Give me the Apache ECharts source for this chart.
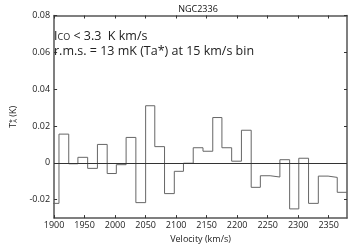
<!DOCTYPE html>
<html>
<head>
<meta charset="utf-8">
<script src="https://cdn.jsdelivr.net/npm/echarts@6/dist/echarts.min.js"></script>
<style>
html,body{margin:0;padding:0;background:#fff;}
#c{width:348px;height:249px;}
</style>
</head>
<body>
<div id="c"></div>
<script>
// Left edges of the velocity bins (km/s)
const binStart = [1892, 1908, 1924, 1939, 1955, 1971, 1987, 2002, 2018, 2034,
  2050, 2065, 2081, 2097, 2112, 2128, 2144, 2160, 2175, 2191,
  2207, 2223, 2238, 2254, 2270, 2286, 2301, 2317, 2333, 2349, 2364];
const binEnd = 2380;
// Antenna temperature per bin (K)
const tA = [-0.022, 0.0156, -0.0005, 0.003, -0.003, 0.010, -0.0058, -0.001, 0.0138, -0.0216,
  0.031, 0.0088, -0.0167, -0.0046, -0.0002, 0.0082, 0.0063, 0.0246, 0.0082, 0.0009,
  0.0177, -0.0133, -0.007, -0.0077, 0.0017, -0.025, 0.0025, -0.022, -0.0072, -0.0079, -0.016];
const xTicks = [1900, 1950, 2000, 2050, 2100, 2150, 2200, 2250, 2300, 2350];
const yTicks = [-0.02, 0, 0.02, 0.04, 0.06, 0.08];
const titleText = 'NGC2336';
const note1 = 'I{s|CO} < 3.3  K km/s';
const note2 = 'r.m.s. = 13 mK (Ta*) at 15 km/s bin';

const FONT = 'Open Sans';
const data = binStart.map((v, i) => [v, tA[i]]);
data.push([binEnd, tA[tA.length - 1]]);

const axisLine = {show: true, lineStyle: {color: '#555', width: 1.5}};
const tickStyle = {show: true, inside: true, length: 3, lineStyle: {color: '#333', width: 1}};

const chart = echarts.init(document.getElementById('c'), null, {renderer: 'canvas'});
chart.setOption({
  animation: false,
  backgroundColor: '#fff',
  title: {
    text: titleText, left: 193, top: 0, textAlign: 'center',
    textStyle: {fontFamily: FONT, fontSize: 9, fontWeight: 'normal', color: '#111'}
  },
  grid: {left: 39, right: 1, top: 15.5, bottom: 23, containLabel: false},
  xAxis: [{
    type: 'value', min: 1900, max: binEnd, position: 'bottom',
    name: 'Velocity (km/s)', nameLocation: 'middle', nameGap: 15,
    nameTextStyle: {fontFamily: FONT, fontSize: 9, color: '#222'},
    axisLine: {...axisLine, onZero: false},
    axisTick: {...tickStyle, customValues: xTicks},
    axisLabel: {customValues: xTicks, formatter: v => String(v), fontFamily: FONT, fontSize: 9, color: '#222', margin: 3},
    splitLine: {show: false}
  }, {
    type: 'value', min: 1900, max: binEnd, position: 'top',
    axisLine: {...axisLine, onZero: false},
    axisTick: {...tickStyle, customValues: xTicks},
    axisLabel: {show: false},
    splitLine: {show: false}
  }],
  yAxis: [{
    type: 'value', min: -0.03, max: 0.08, position: 'left',
    name: '{a|T}{b|A}{c|*}{a| (K)}', nameLocation: 'middle', nameGap: 12, nameRotate: 90,
    nameTextStyle: {
      fontFamily: FONT, fontSize: 9, color: '#222',
      rich: {
        a: {fontFamily: FONT, fontSize: 9, color: '#222'},
        b: {fontFamily: FONT, fontSize: 6, color: '#222', padding: [4, 0, 0, 0]},
        c: {fontFamily: FONT, fontSize: 7, color: '#222', padding: [0, 0, 4, -4]}
      }
    },
    axisLine: {...axisLine, onZero: false},
    axisTick: {...tickStyle, customValues: yTicks},
    axisLabel: {customValues: yTicks, fontFamily: FONT, fontSize: 9, color: '#222', margin: 4},
    splitLine: {show: false}
  }, {
    type: 'value', min: -0.03, max: 0.08, position: 'right',
    axisLine: {...axisLine, onZero: false},
    axisTick: {...tickStyle, customValues: yTicks},
    axisLabel: {show: false},
    splitLine: {show: false}
  }],
  series: [{
    type: 'line', step: 'end', data: data, xAxisIndex: 0, yAxisIndex: 0,
    showSymbol: false, symbol: 'none', clip: true,
    lineStyle: {color: '#666', width: 1},
    markLine: {
      silent: true, symbol: 'none', label: {show: false},
      lineStyle: {color: '#333', width: 1, type: 'solid'},
      data: [{yAxis: 0}]
    }
  }],
  graphic: [{
    type: 'text', left: 54, top: 29.5,
    style: {
      text: note1, fontFamily: FONT, fontSize: 12.5, fill: '#222',
      rich: {s: {fontFamily: FONT, fontSize: 9, fill: '#222', padding: [3, 0, 0, 0]}}
    }
  }, {
    type: 'text', left: 54, top: 44.5,
    style: {text: note2, fontFamily: FONT, fontSize: 12.5, fill: '#222'}
  }]
});
</script>
</body>
</html>
